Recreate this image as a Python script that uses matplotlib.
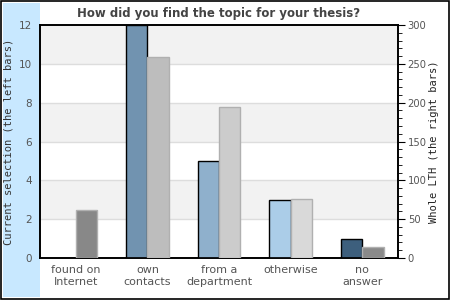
import numpy as np
import matplotlib
matplotlib.use("Agg")
import matplotlib.pyplot as plt
from matplotlib.patches import Rectangle
from matplotlib.ticker import MultipleLocator

categories = ["found on\nInternet", "own\ncontacts", "from a\ndepartment", "otherwise", "no\nanswer"]
current = [0, 12, 5, 3, 1]          # left axis
whole = [62, 259, 195, 76, 14]      # right axis
left_colors = ["#7193b0", "#7193b0", "#8fb0cc", "#abcde8", "#3d5f7d"]
right_colors = ["#888888", "#bdbdbd", "#cccccc", "#d9d9d9", "#8a8a8a"]

txt = "#555555"

fig = plt.figure(figsize=(4.5, 3), dpi=100)

# background: light blue strip on the left + outer frame
bg = fig.add_axes([0, 0, 1, 1], zorder=-1)
bg.set_xlim(0, 450)
bg.set_ylim(300, 0)
bg.axis("off")
bg.add_patch(Rectangle((3, 3), 37, 294, color="#c8e8ff", lw=0))
bg.add_patch(Rectangle((0.7, 0.7), 448, 298, fill=False, ec="black", lw=1.2))

ax = fig.add_axes([40 / 450, 42 / 300, 358 / 450, 233 / 300])
ax2 = ax.twinx()

x = np.arange(len(categories))
w = 0.3
ax.set_xlim(-0.5, len(categories) - 0.5)
ax.set_ylim(0, 12)
ax2.set_ylim(0, 300)

# alternating bands
for lo in range(0, 12, 2):
    ax.axhspan(lo, lo + 2, color="#f2f2f2" if (lo // 2) % 2 else "white", zorder=0, lw=0)
for g in range(2, 12, 2):
    ax.axhline(g, color="#dddddd", lw=1, zorder=0.5)

for i in x:
    if current[i] > 0:
        ax.bar(i - w / 2, current[i], w, color=left_colors[i], edgecolor="black", lw=1, zorder=3)
    ax2.bar(i + w / 2, whole[i], w, color=right_colors[i], edgecolor="#b0b0b0", lw=1, zorder=3)

ax.set_xticks(x)
ax.set_xticklabels(categories, fontsize=8, color=txt)
ax.tick_params(axis="x", length=0, pad=5)
ax.set_yticks(range(0, 13, 2))
ax.tick_params(axis="y", length=0, labelsize=7.5, labelcolor=txt, pad=6)
ax2.yaxis.set_major_locator(MultipleLocator(50))
ax2.yaxis.set_minor_locator(MultipleLocator(10))
ax2.tick_params(axis="y", which="major", length=5, labelsize=7.2, labelcolor=txt, pad=2)
ax2.tick_params(axis="y", which="minor", length=3)

for a in (ax, ax2):
    for s in a.spines.values():
        s.set_linewidth(1.2)

ax.set_ylabel("Current selection (the left bars)", family="DejaVu Sans Mono",
              fontsize=7.5, color="#333333", va="center")
ax.yaxis.set_label_coords(-31 / 358, 0.5)
ax2.set_ylabel("Whole LTH (the right bars)", family="DejaVu Sans Mono",
               fontsize=7.5, color="#222222", rotation=90, va="center")
ax2.yaxis.set_label_coords(394 / 358, 0.5)
ax.set_title("How did you find the topic for your thesis?", fontsize=8.5,
             fontweight="bold", color="#444444", pad=6)

fig.savefig("out.png", dpi=100)
